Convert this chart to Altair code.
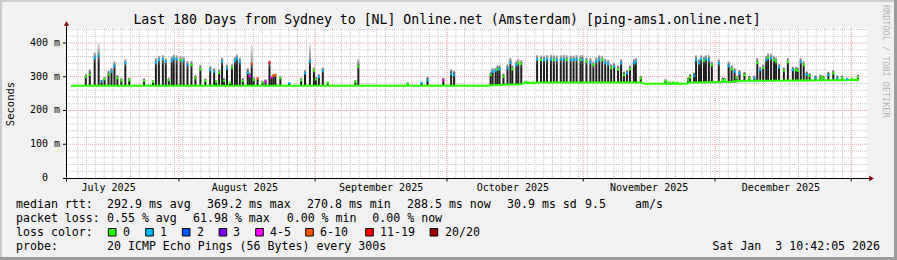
import altair as alt
import pandas as pd

FONT = "DejaVu Sans Mono"
START = pd.Timestamp("2025-07-07 10:42:05")
NB = "\u00a0"

# ---------------- data (days since START, values in ms) ----------------
spike_day = [3.37, 4.27, 5.39, 6.29, 6.97, 7.64, 8.54, 9.21, 9.89, 10.56,
             11.46, 12.36, 13.26, 16.63, 18.65, 19.32, 20.00, 20.90, 21.57, 22.25,
             22.92, 23.37, 24.04, 24.94, 25.62, 26.51, 27.41, 28.31, 29.44, 30.56,
             31.68, 32.58, 33.03, 33.71, 34.38, 34.83, 35.50, 36.18, 36.63, 37.30,
             37.75, 38.42, 39.10, 40.22, 40.67, 41.12, 41.57, 42.47, 43.59, 44.27,
             45.16, 45.61, 46.06, 46.51, 47.64, 49.66, 52.36, 53.25, 54.37, 55.28,
             55.73, 56.40, 57.30, 58.42, 64.71, 65.39, 76.63, 79.78, 81.12, 84.72,
             86.51, 87.18,
             95.49, 95.94, 96.62, 97.07, 97.52, 98.42, 99.32, 99.99, 100.44, 101.34,
             101.79, 102.46, 103.36, 104.26, 105.16, 106.06, 106.96, 107.63, 108.31, 109.21,
             109.88, 110.55, 111.45, 112.13, 112.80, 113.70, 114.37, 115.05, 115.94, 116.39,
             117.29, 118.19, 118.87, 119.54, 120.22, 120.89, 121.57, 122.24, 122.92, 123.60,
             124.49, 125.17, 125.84, 126.51, 127.19, 128.09, 128.54, 129.66,
             135.28, 136.18, 137.07, 137.97, 140.44, 140.89, 141.79, 142.24, 142.92, 143.37,
             144.04, 144.49, 145.16, 145.84, 146.51, 147.41, 148.31, 148.76, 149.66, 150.33,
             151.00, 151.45, 152.13, 153.25, 154.37, 155.50, 156.17, 156.85, 157.52, 158.19,
             158.64, 159.31, 159.99, 160.44, 161.11, 162.23, 163.13, 164.26, 164.93, 165.38,
             166.06, 166.73, 167.40, 168.08, 169.43, 170.55, 171.22, 172.35, 173.47, 174.37,
             175.49, 176.61, 177.73, 179.09]

spike_low = [273, 273, 273, 273, 273, 273, 273, 273, 273, 273,
             273, 273, 273, 273, 273, 273, 273, 273, 273, 273,
             273, 273, 273, 273, 273, 273, 273, 273, 273, 273,
             273, 273, 273, 273, 273, 273, 273, 273, 273, 273,
             273, 273, 273, 273, 273, 273, 273, 273, 273, 273,
             273, 273, 273, 273, 273, 273, 273, 273, 273, 273,
             273, 273, 273, 273, 273, 273, 273, 273, 273, 273,
             273, 273,
             275, 275, 276, 276, 276, 276, 277, 277, 277, 278,
             278, 278, 280, 280, 280, 281, 281, 281, 281, 281,
             281, 281, 281, 281, 281, 281, 281, 281, 281, 281,
             281, 281, 281, 281, 281, 281, 281, 281, 281, 281,
             281, 281, 281, 281, 281, 281, 281, 281,
             279, 279, 279, 279, 280, 281, 281, 281, 281, 281,
             281, 281, 281, 281, 281, 281, 282, 282, 282, 283,
             283, 284, 285, 286, 286, 286, 287, 287, 287, 287,
             287, 287, 287, 287, 287, 287, 287, 287, 287, 287,
             287, 287, 287, 288, 288, 288, 288, 288, 288, 288,
             288, 288, 288, 288]

spike_top = [308, 322, 372, 378, 292, 300, 318, 326, 345, 305,
             296, 352, 297, 295, 290, 355, 362, 364, 356, 297,
             360, 366, 364, 362, 360, 347, 347, 305, 335, 295,
             332, 326, 290, 322, 357, 296, 336, 286, 338, 360,
             366, 357, 296, 326, 312, 345, 298, 298, 288, 293,
             348, 303, 308, 310, 303, 283, 297, 320, 358, 328,
             300, 308, 328, 286, 290, 347, 283, 284, 300, 297,
             322, 318,
             315, 326, 326, 334, 334, 310, 337, 356, 334, 347,
             352, 350, 287, 285, 286, 364, 363, 363, 364, 365,
             364, 363, 364, 365, 364, 363, 363, 365, 364, 364,
             358, 356, 345, 358, 364, 362, 354, 350, 338, 342,
             334, 352, 316, 320, 334, 352, 356, 303,
             293, 286, 286, 284, 298, 308, 313, 364, 352, 364,
             360, 364, 364, 345, 287, 352, 298, 296, 345, 334,
             326, 303, 320, 315, 303, 303, 356, 330, 337, 362,
             370, 368, 362, 356, 338, 328, 356, 330, 330, 328,
             356, 346, 316, 310, 304, 306, 304, 315, 320, 304,
             304, 298, 298, 306]

spike_med = [300, 306, 356, 362, 286, 293, 306, 315, 332, 296,
             289, 340, 290, 288, 285, 342, 350, 352, 345, 290,
             348, 355, 352, 350, 348, 335, 335, 296, 322, 288,
             320, 315, 285, 312, 345, 288, 325, 282, 328, 348,
             355, 345, 288, 312, 302, 338, 290, 295, 284, 286,
             342, 298, 303, 305, 296, 281, 290, 310, 345, 318,
             292, 300, 318, 282, 285, 330, 280, 282, 290, 290,
             308, 305,
             305, 315, 318, 322, 322, 300, 325, 342, 322, 335,
             340, 338, 284, 282, 283, 352, 350, 350, 352, 352,
             350, 350, 352, 352, 350, 350, 350, 352, 350, 350,
             345, 342, 335, 345, 350, 350, 342, 338, 326, 330,
             322, 340, 305, 310, 322, 340, 344, 295,
             287, 283, 283, 282, 290, 298, 303, 350, 340, 352,
             348, 352, 350, 335, 284, 340, 290, 290, 332, 322,
             315, 296, 310, 305, 296, 296, 342, 320, 326, 350,
             356, 355, 350, 345, 328, 318, 344, 320, 320, 318,
             344, 336, 306, 302, 297, 298, 297, 305, 310, 297,
             297, 293, 293, 298]

spike_loss = ["0", "0", "1", "1", "1", "0", "0", "1", "1", "0",
              "0", "1", "0", "0", "0", "1", "1", "1", "1", "0",
              "1", "1", "1", "0", "1", "1", "0", "0", "0", "0",
              "1", "1", "0", "0", "1", "0", "1", "0", "0", "1",
              "1", "1", "0", "1", "4-5", "6-10", "0", "6-10", "0", "4-5",
              "11-19", "4-5", "6-10", "6-10", "0", "1", "0", "1", "1", "0",
              "0", "1", "1", "0", "0", "0", "0", "1", "1", "4-5",
              "1", "1",
              "0", "1", "1", "0", "1", "0", "1", "1", "0", "1",
              "0", "0", "0", "0", "0", "1", "0", "1", "1", "1",
              "0", "1", "1", "1", "0", "1", "1", "1", "0", "1",
              "0", "1", "0", "1", "1", "0", "1", "1", "0", "1",
              "0", "1", "0", "1", "0", "1", "1", "0",
              "0", "0", "0", "0", "0", "0", "1", "1", "1", "1",
              "0", "1", "1", "0", "0", "1", "0", "0", "1", "0",
              "1", "0", "1", "0", "0", "1", "0", "1", "0", "1",
              "0", "1", "0", "0", "1", "0", "0", "1", "0", "0",
              "1", "0", "1", "0", "1", "0", "0", "1", "0", "1",
              "0", "1", "0", "0"]

faint_day = [6.29, 41.12, 54.37, 65.39]
faint_low = [372, 338, 352, 342]
faint_top = [402, 396, 402, 355]

base_day = [0, 94.82, 95.72, 102.46, 103.36, 105.61, 106.06, 129.66, 130.55,
            140.21, 140.89, 150.33, 152.58, 179.3]
base_val = [273, 273, 275, 278, 282, 281, 283, 283, 279, 279, 283, 285, 288, 290]

loss_levels = ["0", "1", "2", "3", "4-5", "6-10", "11-19", "20/20"]
loss_colors = ["#26ff00", "#00b8ff", "#0059ff", "#7e00ff", "#ff00ff", "#ff5500", "#ff0000", "#a10000"]

y_major = [100, 200, 300, 400]
y_minor = [20, 40, 60, 80, 120, 140, 160, 180, 220, 240, 260, 280, 320, 340, 360, 380, 420, 440]
y_labels = ["100 m", "200 m", "300 m", "400 m"]

month_starts = ["2025-08-01", "2025-09-01", "2025-10-01", "2025-11-01", "2025-12-01", "2026-01-01"]
month_label_dates = ["2025-07-16", "2025-08-16", "2025-09-16", "2025-10-16", "2025-11-16", "2025-12-16"]
month_labels = ["July 2025", "August 2025", "September 2025", "October 2025", "November 2025", "December 2025"]


def to_days(dates):
    return ((pd.to_datetime(pd.Series(dates)) - START) / pd.Timedelta(days=1)).tolist()


minor_dates = pd.date_range("2025-07-09", "2026-01-02", freq="2D")

# ---------------- frames ----------------
spikes = pd.DataFrame({"d": spike_day, "low": spike_low, "top": spike_top,
                       "med": spike_med, "loss": spike_loss})
faint = pd.DataFrame({"d": faint_day, "low": faint_low, "top": faint_top})
base = pd.DataFrame({"d": base_day, "v": base_val})
vmaj = pd.DataFrame({"d": to_days(month_starts)})
vmin = pd.DataFrame({"d": to_days(minor_dates)})
hmaj = pd.DataFrame({"v": y_major, "t": y_labels})
hmin = pd.DataFrame({"v": y_minor})
xlab = pd.DataFrame({"d": to_days(month_label_dates), "t": month_labels})
one = pd.DataFrame({"a": [0]})

W, H = 801, 150
xs = alt.Scale(domain=[0, 180], nice=False, zero=False)
ys = alt.Scale(domain=[0, 444.4], nice=False, zero=False)
X = lambda f: alt.X(f, scale=xs, axis=None)
Y = lambda f: alt.Y(f, scale=ys, axis=None)

MINOR = "#c6c6c6"
MAJOR = "#f0a0a0"

layers = []
layers.append(alt.Chart(vmin).mark_rule(color=MINOR, strokeDash=[1, 1], strokeWidth=1).encode(
    x=X("d:Q"), y=alt.value(0), y2=alt.value(H)))
layers.append(alt.Chart(hmin).mark_rule(color=MINOR, strokeDash=[1, 1], strokeWidth=1).encode(
    y=Y("v:Q"), x=alt.value(0), x2=alt.value(W)))
layers.append(alt.Chart(vmaj).mark_rule(color=MAJOR, strokeDash=[1, 1], strokeWidth=1).encode(
    x=X("d:Q"), y=alt.value(0), y2=alt.value(H)))
layers.append(alt.Chart(hmaj).mark_rule(color=MAJOR, strokeDash=[1, 1], strokeWidth=1).encode(
    y=Y("v:Q"), x=alt.value(0), x2=alt.value(W)))

faint_grad = alt.LinearGradient(gradient="linear", x1=0, x2=0, y1=0, y2=1, stops=[
    alt.GradientStop(offset=0, color="#e6e6e6"), alt.GradientStop(offset=1, color="#8a8a8a")])
smoke_grad = alt.LinearGradient(gradient="linear", x1=0, x2=0, y1=0, y2=1, stops=[
    alt.GradientStop(offset=0, color="#b5b5b5"), alt.GradientStop(offset=0.18, color="#4a4a4a"),
    alt.GradientStop(offset=0.35, color="#1e1e1e"), alt.GradientStop(offset=1, color="#1e1e1e")])

layers.append(alt.Chart(faint).mark_bar(size=2, color=faint_grad).encode(
    x=X("d:Q"), y=Y("top:Q"), y2="low:Q"))
layers.append(alt.Chart(spikes).mark_bar(size=2, color=smoke_grad).encode(
    x=X("d:Q"), y=Y("top:Q"), y2="low:Q"))
layers.append(alt.Chart(base).mark_line(color="#26ff00", strokeWidth=2).encode(
    x=X("d:Q"), y=Y("v:Q")))
layers.append(alt.Chart(spikes).mark_square(size=5, opacity=1).encode(
    x=X("d:Q"), y=Y("med:Q"),
    color=alt.Color("loss:N", scale=alt.Scale(domain=loss_levels, range=loss_colors), legend=None)))

# axes
layers.append(alt.Chart(one).mark_rule(color="#000000", strokeWidth=1).encode(
    x=alt.value(0.5), y=alt.value(-3), y2=alt.value(H + 3.5)))
layers.append(alt.Chart(one).mark_rule(color="#000000", strokeWidth=1).encode(
    y=alt.value(H + 0.5), x=alt.value(-3), x2=alt.value(W + 3)))
layers.append(alt.Chart(hmaj).mark_rule(color="#000000", strokeWidth=1).encode(
    y=Y("v:Q"), x=alt.value(-3), x2=alt.value(0)))
layers.append(alt.Chart(vmaj).mark_rule(color="#000000", strokeWidth=1).encode(
    x=X("d:Q"), y=alt.value(H), y2=alt.value(H + 3.5)))
layers.append(alt.Chart(one).mark_point(shape="triangle-up", filled=True, size=28, color="#800000", opacity=1).encode(
    x=alt.value(0.5), y=alt.value(-4.5)))
layers.append(alt.Chart(one).mark_point(shape="triangle-right", filled=True, size=28, color="#800000", opacity=1).encode(
    x=alt.value(W + 4.5), y=alt.value(H + 0.5)))

# tick labels
layers.append(alt.Chart(hmaj).mark_text(font=FONT, fontSize=10, align="right", baseline="middle", color="#000").encode(
    y=Y("v:Q"), x=alt.value(-6), text="t:N"))
layers.append(alt.Chart(one).mark_text(font=FONT, fontSize=10, align="center", baseline="middle", color="#000").encode(
    y=alt.value(H), x=alt.value(-21), text=alt.value("0")))
layers.append(alt.Chart(xlab).mark_text(font=FONT, fontSize=10, align="center", baseline="alphabetic", color="#000").encode(
    x=X("d:Q"), y=alt.value(163.3), text="t:N"))


def label(t, x, y, size=11.6, align="left", angle=0, color="#000000", baseline="alphabetic"):
    return alt.Chart(one).mark_text(font=FONT, fontSize=size, align=align, baseline=baseline,
                                    angle=angle, color=color).encode(
        x=alt.value(x), y=alt.value(y), text=alt.value(t))


layers.append(label("Last 180 Days from Sydney to [NL] Online.net (Amsterdam) [ping-ams1.online.net]",
                    381, -4, size=13.2, align="center"))
layers.append(label("Seconds", -55, 76, size=10.5, align="center", angle=270, baseline="middle"))
layers.append(label("RRDTOOL / TOBI OETIKER", 817, -23, size=8.5, angle=90, color="#b4b4b4"))

L1, L2, L3, L4 = 180.3, 194.0, 207.8, 221.6
layers += [
    label("median rtt:", -50, L1),
    label("292.9 ms avg", 41, L1),
    label("369.2 ms max", 141, L1),
    label("270.8 ms min", 241, L1),
    label("288.5 ms now", 341, L1),
    label("30.9 ms sd", 441, L1),
    label("9.5", 519, L1),
    label("am/s", 569, L1),
    label("packet loss:", -50, L2),
    label("0.55 % avg", 41, L2),
    label("61.98 % max", 127, L2),
    label("0.00 % min", 220.7, L2),
    label("0.00 % now", 306.3, L2),
    label("loss color:", -50, L3),
    label("probe:", -50, L4),
    label("20 ICMP Echo Pings (56 Bytes) every 300s", 41, L4),
    label("Sat Jan" + NB + NB + "3 10:42:05 2026", 814, L4, align="right"),
]

sq_x = [46.2, 83.5, 120.2, 156.9, 193.5, 243.5, 303.5, 367.9]
lab_x = [57, 94, 131, 167, 204, 254, 314, 379]
for lv, col, sx, lx in zip(loss_levels, loss_colors, sq_x, lab_x):
    layers.append(alt.Chart(one).mark_rect(color=col, stroke="#000000", strokeWidth=1).encode(
        x=alt.value(sx - 3.8), x2=alt.value(sx + 3.8), y=alt.value(200.5), y2=alt.value(208)))
    layers.append(label(lv, lx, L3))

# frame
def band(x1, x2, y1, y2, col):
    return alt.Chart(one).mark_rect(color=col).encode(
        x=alt.value(x1), x2=alt.value(x2), y=alt.value(y1), y2=alt.value(y2))

layers += [
    band(-66, 831, -28, -26, "#cbcbcb"),
    band(-66, -64, -28, 232, "#cbcbcb"),
    band(-66, 831, 229, 232, "#9b9b9b"),
    band(828, 831, -28, 232, "#9b9b9b"),
]

chart = alt.layer(*layers).properties(
    width=W, height=H,
    padding={"left": 66, "top": 28, "right": 30, "bottom": 82},
    autosize=alt.AutoSizeParams(type="none"),
    background="#f1f1f1",
).configure_view(stroke=None, fill="#ffffff")

chart.save("out.html", embed_options={"renderer": "svg", "actions": False})
